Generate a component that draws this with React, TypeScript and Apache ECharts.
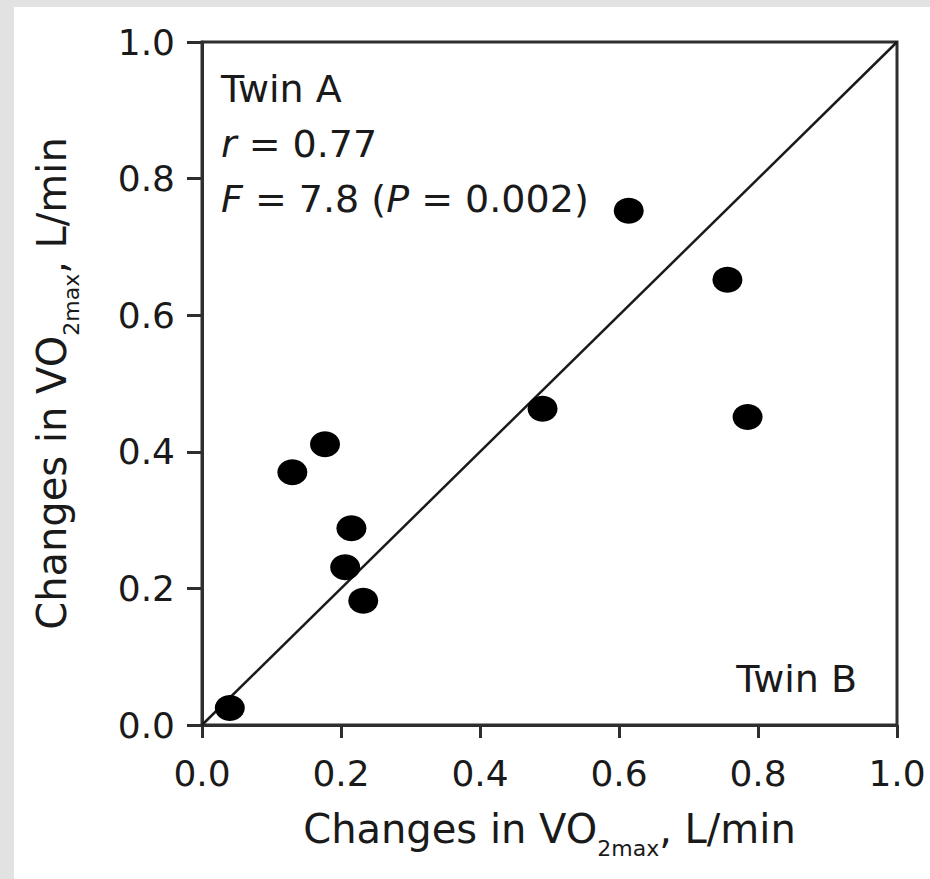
import React, { useEffect, useRef } from "react";
import * as echarts from "echarts";

const xValues = [0.04, 0.13, 0.177, 0.215, 0.206, 0.232, 0.49, 0.614, 0.756, 0.785];
const yValues = [0.025, 0.37, 0.411, 0.288, 0.231, 0.182, 0.463, 0.753, 0.652, 0.451];
const identityX = [0, 1];
const identityY = [0, 1];
const axisTitle = "Changes in VO{sub|2max}, L/min";
const annotationLines = ["Twin A", "{i|r} = 0.77", "{i|F} = 7.8 ({i|P} = 0.002)"];
const cornerLabel = "Twin B";

const FONT = "'DejaVu Sans', 'Liberation Sans', Arial, sans-serif";
const INK = "#1a1a1a";
const FRAME = "#2e2e2e";

export default function App() {
  const ref = useRef<HTMLDivElement>(null);
  useEffect(() => {
    document.documentElement.style.overflow = "hidden";
    document.body.style.overflow = "hidden";
    if (!ref.current) return;
    const chart = echarts.init(ref.current, null, { renderer: "svg" });
    const points = xValues.map((x, i) => [x, yValues[i]]);
    const line = identityX.map((x, i) => [x, identityY[i]]);
    const richTitle = {
      sub: { fontSize: 22, fontFamily: FONT, color: INK, verticalAlign: "bottom", lineHeight: 22 },
    };
    chart.setOption({
      animation: false,
      backgroundColor: "#ffffff",
      textStyle: { fontFamily: FONT },
      grid: {
        left: 202,
        top: 42,
        right: 33,
        bottom: 154,
        show: true,
        borderColor: FRAME,
        borderWidth: 3,
        backgroundColor: "transparent",
      },
      xAxis: {
        type: "value",
        min: 0,
        max: 1,
        interval: 0.2,
        name: axisTitle,
        nameLocation: "middle",
        nameGap: 74,
        nameTextStyle: {
          fontSize: 40,
          fontFamily: FONT,
          color: INK,
          lineHeight: 60,
          rich: richTitle,
        },
        axisLine: { show: true, onZero: false, lineStyle: { color: FRAME, width: 3 } },
        axisTick: { show: true, inside: false, length: 13, lineStyle: { color: FRAME, width: 3 } },
        axisLabel: {
          fontSize: 36,
          fontFamily: FONT,
          color: INK,
          margin: 30,
          formatter: (v: number) => v.toFixed(1),
        },
        splitLine: { show: false },
      },
      yAxis: {
        type: "value",
        min: 0,
        max: 1,
        interval: 0.2,
        name: axisTitle,
        nameLocation: "middle",
        nameGap: 120,
        nameTextStyle: {
          fontSize: 40,
          fontFamily: FONT,
          color: INK,
          lineHeight: 60,
          rich: richTitle,
        },
        axisLine: { show: true, onZero: false, lineStyle: { color: FRAME, width: 3 } },
        axisTick: { show: true, inside: false, length: 15, lineStyle: { color: FRAME, width: 3 } },
        axisLabel: {
          fontSize: 36,
          fontFamily: FONT,
          color: INK,
          margin: 27,
          formatter: (v: number) => v.toFixed(1),
        },
        splitLine: { show: false },
      },
      series: [
        {
          type: "line",
          data: line,
          symbol: "none",
          lineStyle: { color: INK, width: 2.5 },
          z: 2,
        },
        {
          type: "scatter",
          data: points,
          symbol: "circle",
          symbolSize: [30, 26],
          itemStyle: { color: "#000000", opacity: 1 },
          z: 3,
        },
      ],
      graphic: [
        { type: "rect", left: 0, top: 0, shape: { width: 14, height: 879 }, style: { fill: "#e2e2e2" }, silent: true },
        { type: "rect", left: 0, top: 0, shape: { width: 930, height: 7 }, style: { fill: "#e2e2e2" }, silent: true },
        ...annotationLines.map((t, i) => ({
          type: "text",
          x: 221,
          y: 89 + i * 55,
          style: {
            text: t,
            fontSize: 38,
            fontFamily: FONT,
            fill: INK,
            verticalAlign: "middle",
            align: "left",
            rich: { i: { fontSize: 38, fontFamily: FONT, fontStyle: "italic", fill: INK } },
          },
        })),
        {
          type: "text",
          x: 857,
          y: 679,
          style: { text: cornerLabel, fontSize: 38, fontFamily: FONT, fill: INK, verticalAlign: "middle", align: "right" },
        },
      ],
    });
    return () => chart.dispose();
  }, []);
  return (
    <div style={{ position: "fixed", left: 0, top: 0, width: 930, height: 879 }}>
      <div ref={ref} style={{ width: 930, height: 879 }} />
    </div>
  );
}
